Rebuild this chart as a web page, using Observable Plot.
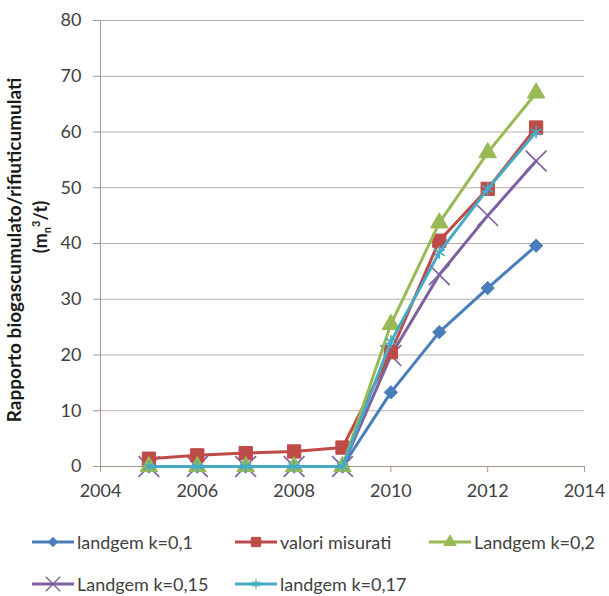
<!DOCTYPE html>
<html>
<head>
<meta charset="utf-8">
<script src="https://cdn.jsdelivr.net/npm/d3@7"></script>
<script src="https://cdn.jsdelivr.net/npm/@observablehq/plot@0.6"></script>
<style>
  body { margin: 0; background: #fff; font-family: Lato, "Open Sans", sans-serif; }
  #wrap { position: relative; width: 609px; height: 596px; overflow: hidden; }
  #legend { position: absolute; left: 0; top: 0; width: 609px; height: 596px; pointer-events: none; }
  .item { position: absolute; display: flex; align-items: center; font-size: 18px; color: #404040; white-space: nowrap; }
  .item svg { display: block; margin-right: 3px; }
</style>
</head>
<body>
<div id="wrap"><div id="chart"></div><div id="legend"></div></div>
<script>
const years = [2005, 2006, 2007, 2008, 2009, 2010, 2011, 2012, 2013];
const landgem01  = [0, 0, 0, 0, 0, 13.3, 24.1, 32.0, 39.6];
const misurati   = [1.4, 2.0, 2.4, 2.7, 3.4, 20.5, 40.5, 49.8, 60.8];
const landgem02  = [0, 0, 0, 0, 0, 25.5, 43.7, 56.3, 67.0];
const landgem015 = [0, 0, 0, 0, 0, 19.9, 34.4, 45.0, 54.8];
const landgem017 = [0, 0, 0, 0, 0, 22.4, 38.4, 49.8, 60.0];
const xTicks = [2004, 2006, 2008, 2010, 2012, 2014];
const yTicks = [0, 10, 20, 30, 40, 50, 60, 70, 80];

const seriesDefs = [
  {name: "landgem k=0,1",   values: landgem01,  color: "#4a7ebb", symbol: "diamond2", r: 6,   filled: true,  left: 32,  top: 542},
  {name: "valori misurati", values: misurati,   color: "#be4b48", symbol: "square",   r: 7.5, filled: true,  left: 235, top: 542},
  {name: "Landgem k=0,2",   values: landgem02,  color: "#98b954", symbol: "triangle", r: 6.5, filled: true,  left: 429, top: 542},
  {name: "Landgem k=0,15",  values: landgem015, color: "#7d60a0", symbol: "times",    r: 9.5, filled: false, left: 32,  top: 584},
  {name: "landgem k=0,17",  values: landgem017, color: "#46aac5", symbol: "asterisk", r: 6,   filled: false, left: 235, top: 584}
];

const data = seriesDefs.flatMap(s => years.map((y, i) => ({series: s.name, year: y, value: s.values[i]})));

const marks = [
  Plot.gridY(yTicks, {stroke: "#bcaea6", strokeOpacity: 1, strokeWidth: 1}),
  Plot.ruleX([2004], {stroke: "#a8968c", strokeWidth: 1}),
  Plot.ruleY([0], {stroke: "#a8968c", strokeWidth: 1}),
  Plot.axisY({ticks: yTicks, tickSize: 7, tickPadding: 12, label: null, stroke: "#a8968c", fill: "#404040", fontSize: 18}),
  Plot.axisX({ticks: xTicks, tickSize: 6, tickPadding: 12, label: null, tickFormat: d => String(d), stroke: "#a8968c", fill: "#404040", fontSize: 18})
];
// draw purple first so it sits beneath the other series at the zero points
const drawOrder = [3, 0, 1, 2, 4];
for (const idx of drawOrder) {
  const s = seriesDefs[idx];
  const d = data.filter(r => r.series === s.name);
  marks.push(Plot.line(d, {x: "year", y: "value", stroke: s.color, strokeWidth: 3}));
  marks.push(Plot.dot(d, {x: "year", y: "value", symbol: () => s.symbol, r: s.r,
    fill: s.filled ? s.color : "none", stroke: s.color, strokeWidth: s.filled ? 1 : 1.6}));
}

const chart = Plot.plot({
  width: 609,
  height: 506,
  marginLeft: 100,
  marginRight: 25,
  marginTop: 20,
  marginBottom: 40,
  style: {fontFamily: "Lato, 'Open Sans', sans-serif", background: "#fff", overflow: "visible"},
  x: {domain: [2004, 2014], ticks: xTicks},
  y: {domain: [0, 80], ticks: yTicks},
  symbol: {type: "identity"},
  marks
});
document.getElementById("chart").appendChild(chart);

// y-axis title
const svg = d3.select(chart);
svg.append("text")
  .attr("transform", "translate(21,250) rotate(-90)")
  .attr("text-anchor", "middle")
  .attr("font-weight", "bold").attr("font-size", 19).attr("fill", "#1a1a1a")
  .attr("font-family", "Lato, sans-serif")
  .text("Rapporto biogascumulato/rifiuticumulati");
const t2 = svg.append("text")
  .attr("transform", "translate(47,227) rotate(-90)")
  .attr("text-anchor", "middle")
  .attr("font-weight", "bold").attr("font-size", 18).attr("fill", "#1a1a1a")
  .attr("font-family", "Lato, sans-serif");
t2.append("tspan").text("(m");
t2.append("tspan").attr("font-size", 11).attr("dy", 4).text("n");
t2.append("tspan").attr("font-size", 11).attr("dy", -11).text("3");
t2.append("tspan").attr("dy", 7).text("/t)");

// legend
const legend = d3.select("#legend");
const symMap = {diamond2: d3.symbolDiamond2, square: d3.symbolSquare, triangle: d3.symbolTriangle, times: d3.symbolTimes, asterisk: d3.symbolAsterisk};
for (const s of seriesDefs) {
  const item = legend.append("div").attr("class", "item")
    .style("left", s.left + "px").style("top", (s.top - 12) + "px").style("height", "24px");
  const sv = item.append("svg").attr("width", 42).attr("height", 20);
  sv.append("line").attr("x1", 0).attr("x2", 42).attr("y1", 10).attr("y2", 10)
    .attr("stroke", s.color).attr("stroke-width", 3);
  sv.append("path").attr("transform", "translate(21,10)")
    .attr("d", d3.symbol(symMap[s.symbol], Math.PI * (s.r * 0.7) ** 2)())
    .attr("fill", s.filled ? s.color : "none").attr("stroke", s.color).attr("stroke-width", s.filled ? 1 : 1.4);
  item.append("span").text(s.name);
}
</script>
</body>
</html>
